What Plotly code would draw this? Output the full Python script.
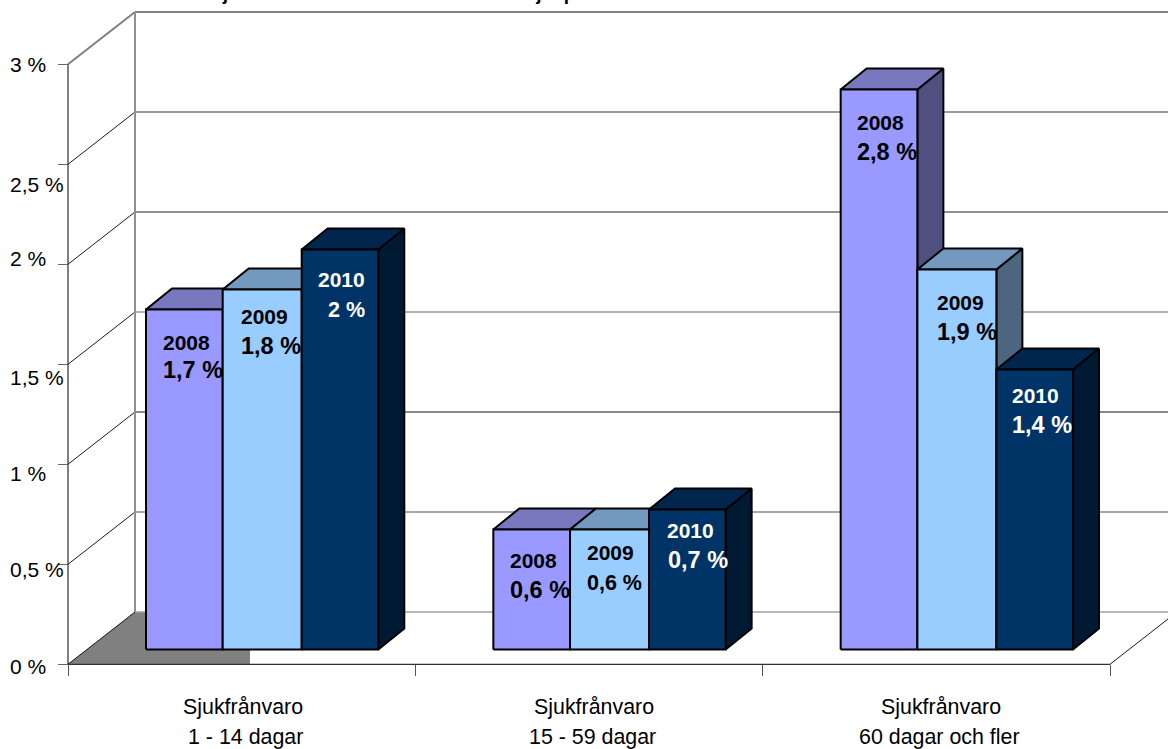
import plotly.graph_objects as go

# ---- data ----
CATEGORY_LINE1 = ["Sjukfrånvaro", "Sjukfrånvaro", "Sjukfrånvaro"]
CATEGORY_LINE2 = ["1 - 14 dagar", "15 - 59 dagar", "60 dagar och fler"]
YEARS = ["2008", "2009", "2010"]
V2008 = [1.7, 0.6, 2.8]
V2009 = [1.8, 0.6, 1.9]
V2010 = [2.0, 0.7, 1.4]
Y_TICKS = [0, 0.5, 1, 1.5, 2, 2.5, 3]
Y_TICK_TEXT = ["0 %", "0,5 %", "1 %", "1,5 %", "2 %", "2,5 %", "3 %"]
VALUE_TEXT = [["1,7 %", "0,6 %", "2,8 %"], ["1,8 %", "0,6 %", "1,9 %"], ["2 %", "0,7 %", "1,4 %"]]
TITLE = "Sjukfrånvaro fördelad utifrån antal sjukperioder"

# ---- style ----
W, H = 1168, 749
X_PX, Y_PX = 1042 / 3, 200.0
X_ZERO_PX, Y_ZERO_PX = 68.0, 664.3
FACE = ["#9999FF", "#99CCFF", "#003366"]
TOP = ["#7878BF", "#7399BF", "#00264D"]
SIDE = ["#505080", "#4D6680", "#001A33"]
TEXT = ["#000000", "#000000", "#FFFFFF"]
WALL_DX, WALL_DY = 67 / X_PX, 52.3 / Y_PX
BAR_DX, BAR_DY = 26 / X_PX, 21 / Y_PX
BASE_DY = 14.8 / Y_PX
BAR_EDGES = [0 / X_PX, 76.7 / X_PX, 155.7 / X_PX, 232.3 / X_PX]
BAR_START = 78 / X_PX
GRID_COLORS = ["#A0A0A0", "#888888", "#111111", "#999999", "#222222", "#777777", "#808080"]
GRID_WIDTHS = [1.5, 1.5, 1, 1.5, 1, 1.5, 2]
# label placement relative to each bar's front top-left corner, in pixels
YEAR_OFFSET = [[(15, 33), (15, 31), (14, 33)],
               [(16, 27), (15, 23), (18, 33)],
               [(14, 30), (16, 21), (14, 26)]]
VALUE_OFFSET = [[(15, 60), (15, 60), (14, 62)],
                [(16, 56), (15, 53), (18, 62)],
                [(24, 60), (17, 50), (14, 55)]]
VALUE_SIZE = [[23.5, 23.5, 23.5], [23.5, 21.5, 23.5], [21.5, 23.5, 23.5]]
Y_LABEL_SHIFT = [-2, -5, -9, -13, 6, -20, 0]
LINE1_SHIFT = [1.5, 4.5, 4.5]
LINE2_SHIFT = [3.5, 3.5, 3.5]

fig = go.Figure()


def poly(xs, ys, fill=None, color="#000000", width=2.0):
    fig.add_trace(go.Scatter(
        x=xs, y=ys, mode="lines", hoverinfo="skip", showlegend=False,
        line=dict(color=color, width=width),
        fill="toself" if fill else "none", fillcolor=fill))


# floor
poly([0, WALL_DX, 182 / X_PX, 182 / X_PX, 0], [0, WALL_DY, WALL_DY, 0, 0],
     fill="#808080", color="#808080", width=0)

# back wall and left wall
for i, t in enumerate(Y_TICKS):
    poly([WALL_DX, 3.5], [t + WALL_DY, t + WALL_DY], color=GRID_COLORS[i], width=GRID_WIDTHS[i])
    poly([0, WALL_DX], [t, t + WALL_DY],
         color="#808080" if t == 3 else "#000000", width=2 if t == 3 else 0.9)
poly([WALL_DX, WALL_DX], [WALL_DY, 3 + WALL_DY], color="#909090", width=2)
poly([3, 3 + WALL_DX], [0, WALL_DY], color="#000000", width=0.9)
poly([0, 0], [0, 3], color="#000000", width=1)
poly([0, 3], [0, 0], color="#333333", width=1.3)

# bars, painted back to front
series = [V2008, V2009, V2010]
for c in range(3):
    for s in range(3):
        v = series[s][c]
        x0 = c + BAR_START + BAR_EDGES[s]
        x1 = c + BAR_START + BAR_EDGES[s + 1]
        y0 = BASE_DY
        y1 = BASE_DY + v
        poly([x1, x1 + BAR_DX, x1 + BAR_DX, x1, x1],
             [y0, y0 + BAR_DY, y1 + BAR_DY, y1, y0], fill=SIDE[s])
        poly([x0, x0 + BAR_DX, x1 + BAR_DX, x1, x0],
             [y1, y1 + BAR_DY, y1 + BAR_DY, y1, y1], fill=TOP[s])
        poly([x0, x1, x1, x0, x0], [y0, y0, y1, y1, y0], fill=FACE[s])

annotations = []


def note(text, x, y, size, color="#000000", bold=False, xanchor="left", xshift=0, yshift=0):
    annotations.append(dict(
        text=f"<b>{text}</b>" if bold else text, x=x, y=y, xref="x", yref="y",
        xanchor=xanchor, yanchor="middle", xshift=xshift, yshift=yshift, showarrow=False,
        align="left", font=dict(family="Liberation Sans", size=size, color=color)))


for c in range(3):
    for s in range(3):
        v = series[s][c]
        x0 = c + BAR_START + BAR_EDGES[s]
        y1 = BASE_DY + v
        dx, dy = YEAR_OFFSET[s][c]
        note(YEARS[s], x0, y1, 21, TEXT[s], True, xshift=dx, yshift=-dy)
        dx, dy = VALUE_OFFSET[s][c]
        note(VALUE_TEXT[s][c], x0, y1, VALUE_SIZE[s][c], TEXT[s], True, xshift=dx, yshift=-dy)

for t, label, sh in zip(Y_TICKS, Y_TICK_TEXT, Y_LABEL_SHIFT):
    note(label, 0, t, 21, xshift=-60, yshift=sh)

for c in range(3):
    note(CATEGORY_LINE1[c], c + 0.5, 0, 21.4, xanchor="center", xshift=LINE1_SHIFT[c], yshift=-42.5)
    note(CATEGORY_LINE2[c], c + 0.5, 0, 21.4, xanchor="center", xshift=LINE2_SHIFT[c], yshift=-72.5)

# title: sits above the page edge, only its descenders show
annotations.append(dict(
    text=f"<b>{TITLE}</b>", x=208 / W, y=1, xref="paper", yref="paper",
    xanchor="left", yanchor="bottom", yshift=-6, showarrow=False,
    font=dict(family="Liberation Sans", size=19, color="#000000")))

fig.update_layout(
    width=W, height=H, autosize=False,
    margin=dict(l=0, r=0, t=0, b=0, pad=0),
    paper_bgcolor="#FFFFFF", plot_bgcolor="#FFFFFF",
    showlegend=False, annotations=annotations,
    xaxis=dict(
        range=[-X_ZERO_PX / X_PX, (W - X_ZERO_PX) / X_PX], domain=[0, 1],
        anchor="free", position=(H - Y_ZERO_PX) / H,
        tickmode="array", tickvals=[0, 1, 2, 3], ticks="outside", ticklen=11, tickwidth=1,
        tickcolor="#555555", showticklabels=False, showgrid=False, zeroline=False, showline=False),
    yaxis=dict(
        range=[-(H - Y_ZERO_PX) / Y_PX, Y_ZERO_PX / Y_PX], domain=[0, 1],
        anchor="free", position=X_ZERO_PX / W,
        tickmode="array", tickvals=Y_TICKS, ticks="outside", ticklen=10, tickwidth=1,
        tickcolor="#666666", showticklabels=False, showgrid=False, zeroline=False, showline=False),
)

fig.write_html("out.html", config={"displayModeBar": False},
               post_script="document.body.style.margin='0';document.body.style.overflow='hidden';")
